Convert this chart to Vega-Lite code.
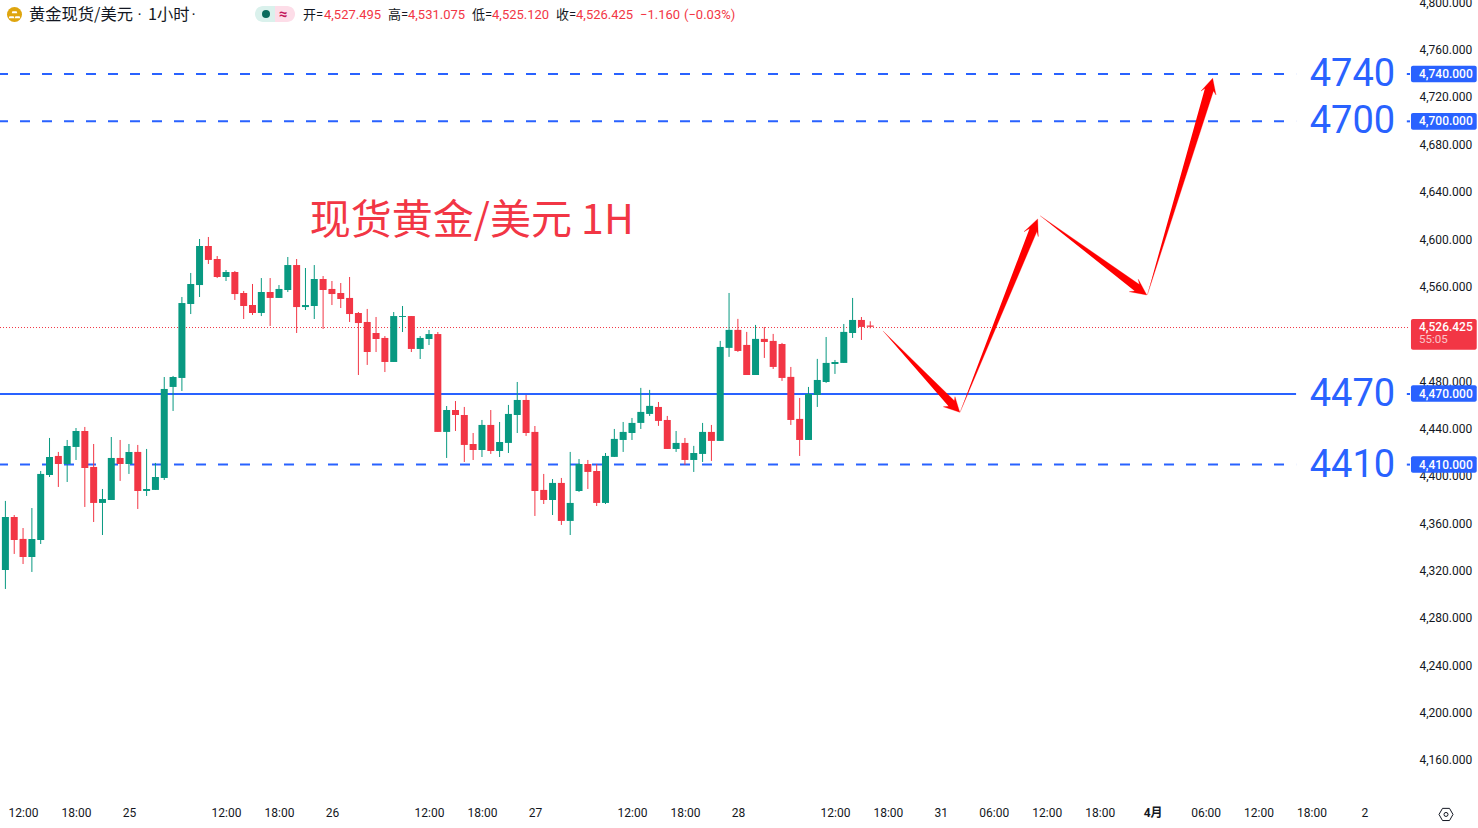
{
  "$schema": "https://vega.github.io/schema/vega-lite/v6.json",
  "description": "Spot gold / USD 1H candles with projected path arrows",
  "width": 1410,
  "height": 798,
  "autosize": {"type": "none"},
  "padding": {"left": 0, "top": 0, "right": 68, "bottom": 30},
  "background": "#ffffff",
  "config": {"view": {"stroke": null}, "axis": {"grid": false}, "font": "Roboto"},
  "datasets": {
    "candles": [
      {"i":0,"open":4321.0,"close":4365.7,"high":4379.3,"low":4304.9,"dir":"up"},
      {"i":1,"open":4365.7,"close":4346.3,"high":4367.4,"low":4334.5,"dir":"down"},
      {"i":2,"open":4347.2,"close":4331.9,"high":4356.4,"low":4326.0,"dir":"down"},
      {"i":3,"open":4331.9,"close":4347.2,"high":4373.3,"low":4319.3,"dir":"up"},
      {"i":4,"open":4346.3,"close":4402.1,"high":4404.6,"low":4342.9,"dir":"up"},
      {"i":5,"open":4401.2,"close":4416.4,"high":4432.5,"low":4399.5,"dir":"up"},
      {"i":6,"open":4417.3,"close":4410.5,"high":4420.7,"low":4391.1,"dir":"down"},
      {"i":7,"open":4410.5,"close":4425.7,"high":4430.8,"low":4395.3,"dir":"up"},
      {"i":8,"open":4424.9,"close":4438.4,"high":4440.9,"low":4413.9,"dir":"up"},
      {"i":9,"open":4438.4,"close":4407.1,"high":4441.8,"low":4374.2,"dir":"down"},
      {"i":10,"open":4408.0,"close":4377.6,"high":4427.4,"low":4361.5,"dir":"down"},
      {"i":11,"open":4377.6,"close":4380.9,"high":4389.4,"low":4350.5,"dir":"up"},
      {"i":12,"open":4380.1,"close":4415.6,"high":4433.3,"low":4380.1,"dir":"up"},
      {"i":13,"open":4415.6,"close":4410.5,"high":4430.8,"low":4396.2,"dir":"down"},
      {"i":14,"open":4410.5,"close":4420.7,"high":4427.4,"low":4402.1,"dir":"up"},
      {"i":15,"open":4420.7,"close":4387.7,"high":4426.6,"low":4372.5,"dir":"down"},
      {"i":16,"open":4387.7,"close":4389.4,"high":4423.2,"low":4383.5,"dir":"up"},
      {"i":17,"open":4388.6,"close":4399.5,"high":4411.4,"low":4388.6,"dir":"up"},
      {"i":18,"open":4398.7,"close":4473.9,"high":4484.0,"low":4397.0,"dir":"up"},
      {"i":19,"open":4475.6,"close":4484.0,"high":4484.9,"low":4455.3,"dir":"up"},
      {"i":20,"open":4483.2,"close":4546.5,"high":4551.6,"low":4472.2,"dir":"up"},
      {"i":21,"open":4545.7,"close":4562.6,"high":4571.9,"low":4537.2,"dir":"up"},
      {"i":22,"open":4561.7,"close":4594.7,"high":4600.6,"low":4551.6,"dir":"up"},
      {"i":23,"open":4594.7,"close":4582.9,"high":4602.3,"low":4579.5,"dir":"down"},
      {"i":24,"open":4583.7,"close":4568.5,"high":4586.2,"low":4567.6,"dir":"down"},
      {"i":25,"open":4568.5,"close":4572.7,"high":4574.4,"low":4565.1,"dir":"up"},
      {"i":26,"open":4572.7,"close":4554.1,"high":4573.6,"low":4549.1,"dir":"down"},
      {"i":27,"open":4555.0,"close":4544.0,"high":4556.7,"low":4533.0,"dir":"down"},
      {"i":28,"open":4544.8,"close":4538.1,"high":4562.6,"low":4536.4,"dir":"down"},
      {"i":29,"open":4538.1,"close":4555.8,"high":4567.6,"low":4535.5,"dir":"up"},
      {"i":30,"open":4555.8,"close":4550.8,"high":4567.6,"low":4527.1,"dir":"down"},
      {"i":31,"open":4550.8,"close":4558.4,"high":4561.7,"low":4550.8,"dir":"up"},
      {"i":32,"open":4557.5,"close":4578.6,"high":4585.4,"low":4555.8,"dir":"up"},
      {"i":33,"open":4578.6,"close":4543.1,"high":4583.7,"low":4521.2,"dir":"down"},
      {"i":34,"open":4543.1,"close":4544.8,"high":4576.1,"low":4540.6,"dir":"up"},
      {"i":35,"open":4544.0,"close":4566.8,"high":4578.6,"low":4533.0,"dir":"up"},
      {"i":36,"open":4566.8,"close":4557.5,"high":4569.3,"low":4524.6,"dir":"down"},
      {"i":37,"open":4558.4,"close":4554.1,"high":4565.1,"low":4544.8,"dir":"down"},
      {"i":38,"open":4555.0,"close":4549.9,"high":4563.4,"low":4542.3,"dir":"down"},
      {"i":39,"open":4550.8,"close":4537.2,"high":4568.5,"low":4530.5,"dir":"down"},
      {"i":40,"open":4538.1,"close":4529.6,"high":4538.9,"low":4485.7,"dir":"down"},
      {"i":41,"open":4530.5,"close":4505.1,"high":4541.5,"low":4494.2,"dir":"down"},
      {"i":42,"open":4521.2,"close":4516.1,"high":4534.7,"low":4505.1,"dir":"down"},
      {"i":43,"open":4517.0,"close":4496.7,"high":4518.6,"low":4488.2,"dir":"down"},
      {"i":44,"open":4496.7,"close":4535.5,"high":4538.9,"low":4496.7,"dir":"up"},
      {"i":45,"open":4534.7,"close":4535.5,"high":4544.0,"low":4522.0,"dir":"up"},
      {"i":46,"open":4535.5,"close":4507.7,"high":4535.5,"low":4505.1,"dir":"down"},
      {"i":47,"open":4507.7,"close":4517.0,"high":4518.6,"low":4499.2,"dir":"up"},
      {"i":48,"open":4516.1,"close":4520.3,"high":4523.7,"low":4511.0,"dir":"up"},
      {"i":49,"open":4520.3,"close":4437.6,"high":4522.0,"low":4437.6,"dir":"down"},
      {"i":50,"open":4437.6,"close":4456.1,"high":4459.5,"low":4415.6,"dir":"up"},
      {"i":51,"open":4456.1,"close":4451.9,"high":4463.7,"low":4438.4,"dir":"down"},
      {"i":52,"open":4451.9,"close":4426.6,"high":4458.7,"low":4412.2,"dir":"down"},
      {"i":53,"open":4427.4,"close":4422.3,"high":4436.7,"low":4413.9,"dir":"down"},
      {"i":54,"open":4422.3,"close":4443.5,"high":4447.7,"low":4416.4,"dir":"up"},
      {"i":55,"open":4443.5,"close":4421.5,"high":4456.1,"low":4419.0,"dir":"down"},
      {"i":56,"open":4421.5,"close":4429.1,"high":4446.0,"low":4416.4,"dir":"up"},
      {"i":57,"open":4428.3,"close":4452.8,"high":4460.4,"low":4419.8,"dir":"up"},
      {"i":58,"open":4451.9,"close":4464.6,"high":4479.8,"low":4436.7,"dir":"up"},
      {"i":59,"open":4464.6,"close":4436.7,"high":4468.8,"low":4434.2,"dir":"down"},
      {"i":60,"open":4437.6,"close":4387.7,"high":4442.6,"low":4366.6,"dir":"down"},
      {"i":61,"open":4388.6,"close":4380.1,"high":4402.1,"low":4376.7,"dir":"down"},
      {"i":62,"open":4380.1,"close":4394.5,"high":4397.8,"low":4367.4,"dir":"up"},
      {"i":63,"open":4394.5,"close":4362.4,"high":4398.7,"low":4359.0,"dir":"down"},
      {"i":64,"open":4362.4,"close":4377.6,"high":4420.7,"low":4350.5,"dir":"up"},
      {"i":65,"open":4387.7,"close":4410.5,"high":4414.7,"low":4386.9,"dir":"up"},
      {"i":66,"open":4410.5,"close":4403.8,"high":4413.9,"low":4389.4,"dir":"down"},
      {"i":67,"open":4404.6,"close":4377.6,"high":4410.5,"low":4375.0,"dir":"down"},
      {"i":68,"open":4377.6,"close":4417.3,"high":4419.8,"low":4376.7,"dir":"up"},
      {"i":69,"open":4416.5,"close":4431.7,"high":4440.1,"low":4416.4,"dir":"up"},
      {"i":70,"open":4430.8,"close":4437.6,"high":4446.0,"low":4420.7,"dir":"up"},
      {"i":71,"open":4436.7,"close":4445.2,"high":4449.4,"low":4430.8,"dir":"up"},
      {"i":72,"open":4445.2,"close":4454.5,"high":4474.8,"low":4440.1,"dir":"up"},
      {"i":73,"open":4452.8,"close":4459.6,"high":4473.1,"low":4451.1,"dir":"up"},
      {"i":74,"open":4458.7,"close":4446.9,"high":4462.9,"low":4442.7,"dir":"down"},
      {"i":75,"open":4447.7,"close":4423.2,"high":4451.1,"low":4423.2,"dir":"down"},
      {"i":76,"open":4423.2,"close":4428.3,"high":4438.4,"low":4420.7,"dir":"up"},
      {"i":77,"open":4428.3,"close":4413.9,"high":4432.5,"low":4409.7,"dir":"down"},
      {"i":78,"open":4413.9,"close":4419.8,"high":4425.8,"low":4403.8,"dir":"up"},
      {"i":79,"open":4419.0,"close":4437.6,"high":4445.2,"low":4412.2,"dir":"up"},
      {"i":80,"open":4437.6,"close":4430.0,"high":4443.5,"low":4413.1,"dir":"down"},
      {"i":81,"open":4430.0,"close":4509.4,"high":4514.5,"low":4430.0,"dir":"up"},
      {"i":82,"open":4508.6,"close":4523.8,"high":4555.0,"low":4501.0,"dir":"up"},
      {"i":83,"open":4523.8,"close":4506.0,"high":4533.1,"low":4505.2,"dir":"down"},
      {"i":84,"open":4511.1,"close":4485.7,"high":4522.1,"low":4485.7,"dir":"down"},
      {"i":85,"open":4485.7,"close":4516.2,"high":4528.0,"low":4485.7,"dir":"up"},
      {"i":86,"open":4516.2,"close":4513.6,"high":4526.3,"low":4500.1,"dir":"down"},
      {"i":87,"open":4514.5,"close":4492.5,"high":4520.4,"low":4490.8,"dir":"down"},
      {"i":88,"open":4511.9,"close":4483.2,"high":4512.8,"low":4480.7,"dir":"down"},
      {"i":89,"open":4484.1,"close":4447.7,"high":4492.5,"low":4443.5,"dir":"down"},
      {"i":90,"open":4448.6,"close":4430.8,"high":4466.3,"low":4417.3,"dir":"down"},
      {"i":91,"open":4430.8,"close":4469.7,"high":4475.6,"low":4430.8,"dir":"up"},
      {"i":92,"open":4468.8,"close":4481.5,"high":4499.3,"low":4458.7,"dir":"up"},
      {"i":93,"open":4479.8,"close":4495.9,"high":4517.8,"low":4479.0,"dir":"up"},
      {"i":94,"open":4495.0,"close":4496.7,"high":4498.4,"low":4486.6,"dir":"up"},
      {"i":95,"open":4495.9,"close":4522.1,"high":4528.8,"low":4495.9,"dir":"up"},
      {"i":96,"open":4521.2,"close":4532.2,"high":4550.8,"low":4517.0,"dir":"up"},
      {"i":97,"open":4532.2,"close":4526.3,"high":4534.7,"low":4515.3,"dir":"down"},
      {"i":98,"open":4527.495,"close":4526.425,"high":4531.075,"low":4525.12,"dir":"down"}
    ],
    "levels": [
      {"price":4740,"i":-0.612,"i2":146.25,"style":"dash"},
      {"price":4740,"i":158.8,"i2":159.16,"style":"dash"},
      {"price":4700,"i":-0.612,"i2":146.25,"style":"dash"},
      {"price":4700,"i":158.8,"i2":159.16,"style":"dash"},
      {"price":4410,"i":-0.612,"i2":146.25,"style":"dash"},
      {"price":4410,"i":158.8,"i2":159.16,"style":"dash"},
      {"price":4470,"i":-0.612,"i2":146.25,"style":"solid"},
      {"price":4470,"i":158.8,"i2":159.16,"style":"solid"}
    ],
    "last": [{"price":4525.8,"i":-0.612,"i2":159.16}],
    "arrows": [
      {"arrow":1,"ord":1,"i":99.44,"price":4522.9},
      {"arrow":1,"ord":2,"i":107.53,"price":4463.9},
      {"arrow":1,"ord":3,"i":107.60,"price":4467.4},
      {"arrow":1,"ord":4,"i":108.14,"price":4454.2},
      {"arrow":1,"ord":5,"i":106.28,"price":4458.9},
      {"arrow":1,"ord":6,"i":106.87,"price":4459.2},
      {"arrow":2,"ord":1,"i":108.17,"price":4454.2},
      {"arrow":2,"ord":2,"i":116.88,"price":4606.9},
      {"arrow":2,"ord":3,"i":117.04,"price":4602.6},
      {"arrow":2,"ord":4,"i":116.97,"price":4617.5},
      {"arrow":2,"ord":5,"i":115.42,"price":4606.8},
      {"arrow":2,"ord":6,"i":116.05,"price":4609.4},
      {"arrow":3,"ord":1,"i":117.24,"price":4620.3},
      {"arrow":3,"ord":2,"i":128.50,"price":4562.1},
      {"arrow":3,"ord":3,"i":128.37,"price":4566.6},
      {"arrow":3,"ord":4,"i":129.33,"price":4553.3},
      {"arrow":3,"ord":5,"i":127.35,"price":4556.1},
      {"arrow":3,"ord":6,"i":127.96,"price":4556.6},
      {"arrow":4,"ord":1,"i":129.39,"price":4553.3},
      {"arrow":4,"ord":2,"i":136.89,"price":4725.6},
      {"arrow":4,"ord":3,"i":137.18,"price":4722.3},
      {"arrow":4,"ord":4,"i":136.80,"price":4736.4},
      {"arrow":4,"ord":5,"i":135.48,"price":4725.6},
      {"arrow":4,"ord":6,"i":135.92,"price":4727.8}
    ],
    "tags": [
      {"i":159.27,"i2":166.72,"price":4747.0,"price2":4733.0,"tag":"level"},
      {"i":159.27,"i2":166.72,"price":4707.0,"price2":4693.0,"tag":"level"},
      {"i":159.27,"i2":166.72,"price":4477.0,"price2":4463.0,"tag":"level"},
      {"i":159.27,"i2":166.72,"price":4417.0,"price2":4403.0,"tag":"level"},
      {"i":159.27,"i2":166.72,"price":4533.0,"price2":4507.1,"tag":"last"}
    ],
    "tagText": [
      {"i":160.18,"price":4740,"label":"4,740.000"},
      {"i":160.18,"price":4700,"label":"4,700.000"},
      {"i":160.18,"price":4470,"label":"4,470.000"},
      {"i":160.18,"price":4410,"label":"4,410.000"},
      {"i":160.18,"price":4526.4,"label":"4,526.425"}
    ],
    "bigLevels": [
      {"i":147.8,"price":4740,"label":"4740"},
      {"i":147.8,"price":4700,"label":"4700"},
      {"i":147.8,"price":4470,"label":"4470"},
      {"i":147.8,"price":4410,"label":"4410"}
    ],
    "symbol": [
      {"i":2.67,"price":4789.9,"label":"黄金现货/美元"},
      {"i":14.97,"price":4789.9,"label":"·"},
      {"i":16.16,"price":4789.9,"label":"1小时"},
      {"i":21.09,"price":4789.9,"label":"·"}
    ],
    "readout": [
      {"i":33.72,"price":4789.9,"label":"开=","kind":"dark"},
      {"i":36.10,"price":4789.9,"label":"4,527.495","kind":"down"},
      {"i":43.35,"price":4789.9,"label":"高=","kind":"dark"},
      {"i":45.62,"price":4789.9,"label":"4,531.075","kind":"down"},
      {"i":52.87,"price":4789.9,"label":"低=","kind":"dark"},
      {"i":55.14,"price":4789.9,"label":"4,525.120","kind":"down"},
      {"i":62.39,"price":4789.9,"label":"收=","kind":"dark"},
      {"i":64.66,"price":4789.9,"label":"4,526.425","kind":"down"},
      {"i":71.91,"price":4789.9,"label":"−1.160","kind":"down"},
      {"i":76.89,"price":4789.9,"label":"(−0.03%)","kind":"down"}
    ]
  },
  "encoding": {
    "x": {
      "field": "i",
      "type": "quantitative",
      "title": null,
      "scale": {"domain": [-0.612, 159.16], "nice": false, "zero": false, "padding": 0},
      "axis": {
        "values": [2,8,14,25,31,37,48,54,60,71,77,83,94,100,106,112,118,124,130,136,142,148,154],
        "labelExpr": "{'2':'12:00','8':'18:00','14':'25','25':'12:00','31':'18:00','37':'26','48':'12:00','54':'18:00','60':'27','71':'12:00','77':'18:00','83':'28','94':'12:00','100':'18:00','106':'31','112':'06:00','118':'12:00','124':'18:00','130':'4月','136':'06:00','142':'12:00','148':'18:00','154':'2'}[''+datum.value]",
        "labelFontWeight": {"condition": {"test": "datum.value == 130", "value": "bold"}, "value": "normal"},
        "domain": false,
        "ticks": false,
        "labelFont": "Roboto, Noto Sans CJK SC",
        "labelFontSize": 12,
        "labelColor": "#131722",
        "labelPadding": 9,
        "labelOverlap": false,
        "labelFlush": false,
        "labelBound": false
      }
    },
    "y": {
      "field": "price",
      "type": "quantitative",
      "title": null,
      "scale": {"domain": [4128.3, 4802.53], "nice": false, "zero": false, "padding": 0},
      "axis": {
        "orient": "right",
        "values": [4160,4200,4240,4280,4320,4360,4400,4440,4480,4560,4600,4640,4680,4720,4760,4800],
        "format": ",.3f",
        "domain": false,
        "ticks": false,
        "labelFont": "Roboto",
        "labelFontSize": 12,
        "labelColor": "#131722",
        "labelAlign": "left",
        "labelPadding": 9,
        "labelOffset": -0.7,
        "labelOverlap": false,
        "labelFlush": false,
        "labelBound": false
      }
    }
  },
  "layer": [
    {
      "data": {"name": "last"},
      "mark": {"type": "rule", "color": "#f23645", "strokeWidth": 1, "strokeDash": [1, 2]},
      "encoding": {"x2": {"field": "i2"}}
    },
    {
      "data": {"name": "levels"},
      "transform": [{"filter": "datum.style == 'dash'"}],
      "mark": {"type": "rule", "color": "#2962ff", "strokeWidth": 2, "strokeDash": [10, 12], "strokeDashOffset": 2},
      "encoding": {"x2": {"field": "i2"}}
    },
    {
      "data": {"name": "levels"},
      "transform": [{"filter": "datum.style == 'solid'"}],
      "mark": {"type": "rule", "color": "#2962ff", "strokeWidth": 2, "yOffset": 0.4},
      "encoding": {"x2": {"field": "i2"}}
    },
    {
      "data": {"name": "candles"},
      "mark": {"type": "rule", "strokeWidth": 1},
      "encoding": {
        "y": {"field": "high", "type": "quantitative", "title": null},
        "y2": {"field": "low"},
        "color": {"field": "dir", "type": "nominal", "legend": null, "scale": {"domain": ["up", "down", "dark"], "range": ["#089981", "#f23645", "#131722"]}}
      }
    },
    {
      "data": {"name": "candles"},
      "mark": {"type": "bar", "size": 7},
      "encoding": {
        "y": {"field": "open", "type": "quantitative", "title": null},
        "y2": {"field": "close"},
        "color": {"field": "dir", "type": "nominal", "legend": null}
      }
    },
    {
      "data": {"name": "arrows"},
      "mark": {"type": "line", "fill": "#ff0000", "stroke": "#ff0000", "strokeWidth": 0.3},
      "encoding": {
        "detail": {"field": "arrow"},
        "order": {"field": "ord"}
      }
    },
    {
      "data": {"name": "tags"},
      "transform": [{"filter": "datum.tag == 'level'"}],
      "mark": {"type": "rect", "color": "#2962ff", "cornerRadius": 2},
      "encoding": {"x2": {"field": "i2"}, "y2": {"field": "price2"}}
    },
    {
      "data": {"name": "tags"},
      "transform": [{"filter": "datum.tag == 'last'"}],
      "mark": {"type": "rect", "color": "#f23645", "cornerRadius": 2},
      "encoding": {"x2": {"field": "i2"}, "y2": {"field": "price2"}}
    },
    {
      "data": {"name": "tagText"},
      "mark": {"type": "text", "align": "left", "baseline": "middle", "font": "Roboto", "fontSize": 12, "fontWeight": 500, "color": "#ffffff"},
      "encoding": {"text": {"field": "label"}}
    },
    {
      "data": {"values": [{"i": 160.18, "price": 4515.0, "label": "55:05"}]},
      "mark": {"type": "text", "align": "left", "baseline": "middle", "font": "Roboto", "fontSize": 11.5, "color": "#ffffff", "opacity": 0.7},
      "encoding": {"text": {"field": "label"}}
    },
    {
      "data": {"name": "bigLevels"},
      "mark": {"type": "text", "align": "left", "baseline": "middle", "dy": 1, "font": "Roboto", "fontSize": 38, "color": "#2962ff"},
      "encoding": {"text": {"field": "label"}}
    },
    {
      "data": {"values": [{"i": 34.5, "price": 4616.7, "label": "现货黄金/美元 1H"}]},
      "mark": {"type": "text", "align": "left", "baseline": "middle", "dy": 2, "font": "Noto Sans CJK SC", "fontSize": 41, "color": "#f23645"},
      "encoding": {"text": {"field": "label"}}
    },
    {
      "data": {"values": [{"i": 1.03, "price": 4790.3}]},
      "mark": {"type": "point", "shape": "circle", "filled": true, "size": 225, "color": "#dfa50e", "opacity": 1}
    },
    {
      "data": {"values": [{"i": 1.03, "price": 4792.2}, {"i": 0.70, "price": 4788.0}, {"i": 1.37, "price": 4788.0}]},
      "mark": {"type": "point", "shape": "M-1,-0.5L1,-0.5L1.3,0.5L-1.3,0.5Z", "filled": true, "size": 18, "color": "#ffffff", "opacity": 1}
    },
    {
      "data": {"name": "symbol"},
      "transform": [{"filter": "datum.label != '·'"}],
      "mark": {"type": "text", "align": "left", "baseline": "middle", "font": "Noto Sans CJK SC", "fontSize": 16.3, "color": "#131722"},
      "encoding": {"text": {"field": "label"}}
    },
    {
      "data": {"name": "symbol"},
      "transform": [{"filter": "datum.label == '·'"}],
      "mark": {"type": "text", "align": "left", "baseline": "middle", "font": "Roboto", "fontSize": 16, "color": "#131722"},
      "encoding": {"text": {"field": "label"}}
    },
    {
      "data": {"values": [{"i": 28.28, "i2": 30.55, "price": 4797.5, "price2": 4783.9}]},
      "mark": {"type": "rect", "color": "#daf1ec", "cornerRadiusTopLeft": 8, "cornerRadiusBottomLeft": 8},
      "encoding": {"x2": {"field": "i2"}, "y2": {"field": "price2"}}
    },
    {
      "data": {"values": [{"i": 30.55, "i2": 32.82, "price": 4797.5, "price2": 4783.9}]},
      "mark": {"type": "rect", "color": "#fddde8", "cornerRadiusTopRight": 8, "cornerRadiusBottomRight": 8},
      "encoding": {"x2": {"field": "i2"}, "y2": {"field": "price2"}}
    },
    {
      "data": {"values": [{"i": 29.53, "price": 4790.7}]},
      "mark": {"type": "point", "shape": "circle", "filled": true, "size": 64, "color": "#0a6b5c", "opacity": 1}
    },
    {
      "data": {"values": [{"i": 31.46, "price": 4790.7, "label": "≈"}]},
      "mark": {"type": "text", "align": "center", "baseline": "middle", "font": "Roboto", "fontSize": 15, "fontWeight": "bold", "color": "#c2185b"},
      "encoding": {"text": {"field": "label"}}
    },
    {
      "data": {"name": "readout"},
      "mark": {"type": "text", "align": "left", "baseline": "middle", "font": "Roboto, Noto Sans CJK SC", "fontSize": 13},
      "encoding": {
        "text": {"field": "label"},
        "color": {"field": "kind", "type": "nominal", "legend": null}
      }
    },
    {
      "data": {"values": [{"i": 163.24, "price": 4114.4}]},
      "mark": {"type": "point", "shape": "M-1,0L-0.5,-0.87L0.5,-0.87L1,0L0.5,0.87L-0.5,0.87Z", "filled": false, "size": 196, "color": "#131722", "strokeWidth": 1, "opacity": 1}
    },
    {
      "data": {"values": [{"i": 163.24, "price": 4114.4}]},
      "mark": {"type": "point", "shape": "circle", "filled": false, "size": 16, "color": "#131722", "strokeWidth": 1, "opacity": 1}
    }
  ]
}
